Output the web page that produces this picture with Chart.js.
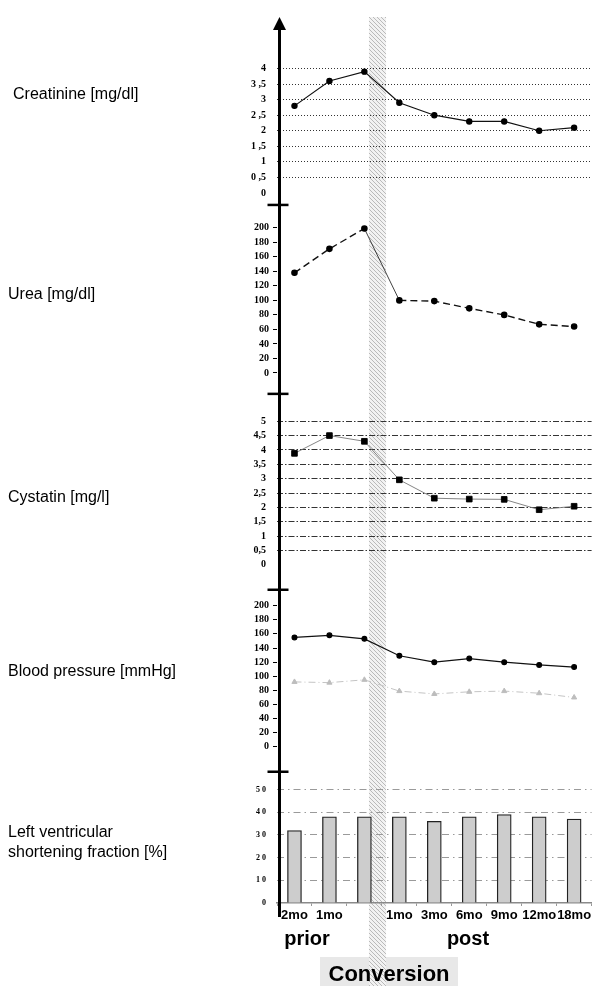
<!DOCTYPE html>
<html>
<head>
<meta charset="utf-8">
<script src="https://cdn.jsdelivr.net/npm/chart.js@4.4.1/dist/chart.umd.min.js"></script>
<style>
  html, body { margin: 0; padding: 0; background: #fff; }
  #wrap { width: 597px; height: 986px; }
</style>
</head>
<body>
<div id="wrap"><canvas id="chart" width="597" height="986"></canvas></div>
<script>
const months = ['2mo', '1mo', '', '1mo', '3mo', '6mo', '9mo', '12mo', '18mo'];

const creatinine = [2.8, 3.6, 3.9, 2.9, 2.5, 2.3, 2.3, 2.0, 2.1];
const urea = [138, 171, 199, 100, 99, 89, 80, 67, 64];
const cystatin = [3.88, 4.5, 4.3, 2.96, 2.32, 2.29, 2.28, 1.92, 2.04];
const systolic = [155, 158, 153, 129, 120, 125, 120, 116, 113];
const diastolic = [92, 91, 95, 79, 75, 78, 79, 76, 70];
const shortening = [32, 38, 38, 38, 36, 38, 39, 38, 37];

const creatTicks = [0, 0.5, 1, 1.5, 2, 2.5, 3, 3.5, 4];
const ureaTicks = [0, 20, 40, 60, 80, 100, 120, 140, 160, 180, 200];
const cysTicks = [0, 0.5, 1, 1.5, 2, 2.5, 3, 3.5, 4, 4.5, 5];
const bpTicks = [0, 20, 40, 60, 80, 100, 120, 140, 160, 180, 200];
const lvTicks = [0, 10, 20, 30, 40, 50];

const panelLabels = [
  ['Creatinine [mg/dl]'],
  ['Urea [mg/dl]'],
  ['Cystatin [mg/l]'],
  ['Blood pressure [mmHg]'],
  ['Left ventricular', 'shortening fraction [%]']
];

const sans = 'Liberation Sans, Arial, sans-serif';
const tickFont = { family: 'Liberation Serif, Times New Roman, serif', size: 10, weight: 'bold' };

const setTicks = list => scale => { scale.ticks = list.map(v => ({ value: v })); };
const fitWidth = scale => { scale.width = 277; };

function yAxis(opts) {
  return {
    type: 'linear',
    position: 'left',
    stack: 'panels',
    stackWeight: opts.weight,
    weight: opts.order,
    min: opts.min,
    max: opts.max,
    afterBuildTicks: setTicks(opts.ticks),
    afterFit: fitWidth,
    border: { display: false, dash: opts.dash || [] },
    grid: {
      display: true,
      drawOnChartArea: !!opts.lines,
      drawTicks: !opts.lines,
      tickLength: 4,
      tickColor: '#000',
      tickWidth: 1,
      color: c => c.tick && c.tick.value === 0 ? 'rgba(0,0,0,0)' : (opts.lineColor || '#333'),
      lineWidth: 1
    },
    ticks: {
      font: { ...tickFont, size: opts.fontSize || 10 },
      color: '#000',
      autoSkip: false,
      padding: opts.lines ? 11 : 4,
      callback: opts.format || (v => v)
    }
  };
}

let hatchPattern = null;
function hatch(ctx) {
  if (hatchPattern) return hatchPattern;
  const c = document.createElement('canvas');
  c.width = 4; c.height = 4;
  const g = c.getContext('2d');
  g.fillStyle = '#f2f2f2';
  g.fillRect(0, 0, 4, 4);
  g.strokeStyle = '#bababa';
  g.lineWidth = 1;
  g.beginPath(); g.moveTo(0, 0); g.lineTo(4, 4); g.stroke();
  hatchPattern = ctx.createPattern(c, 'repeat');
  return hatchPattern;
}

const overlay = {
  id: 'overlay',
  beforeDraw(chart) {
    const { ctx, chartArea, scales: { x } } = chart;
    const p2 = x.getPixelForValue(2);
    const step = x.getPixelForValue(3) - p2;
    ctx.save();
    // grey stipple behind "Conversion"
    ctx.fillStyle = '#e8e8e8';
    ctx.fillRect(320, 957, 138, 29);
    // conversion band
    ctx.fillStyle = hatch(ctx);
    ctx.fillRect(p2 + step * 0.13, chartArea.top, step * 0.49, chart.height - chartArea.top);
    ctx.restore();
  },
  afterDraw(chart) {
    const { ctx, chartArea, scales } = chart;
    const ax = chartArea.left + 2.5;
    ctx.save();
    ctx.strokeStyle = '#000';
    ctx.fillStyle = '#000';
    ctx.lineWidth = 3;
    ctx.beginPath();
    ctx.moveTo(ax, chartArea.top + 10);
    ctx.lineTo(ax, 917);
    ctx.stroke();
    ctx.beginPath();
    ctx.moveTo(ax, chartArea.top);
    ctx.lineTo(ax - 6.5, chartArea.top + 13);
    ctx.lineTo(ax + 6.5, chartArea.top + 13);
    ctx.closePath();
    ctx.fill();
    ctx.lineWidth = 2.5;
    ['yUrea', 'yCys', 'yBp', 'yLv'].forEach(id => {
      const y = scales[id].top;
      ctx.beginPath();
      ctx.moveTo(ax - 12, y);
      ctx.lineTo(ax + 9, y);
      ctx.stroke();
    });

    // panel names
    ctx.font = '16px ' + sans;
    ctx.textAlign = 'left';
    ctx.textBaseline = 'alphabetic';
    const baselines = [99, 299, 502, 676, 837];
    panelLabels.forEach((lines, i) => {
      lines.forEach((t, j) => ctx.fillText(t, i === 0 ? 13 : 8, baselines[i] + j * 20));
    });

    ctx.textAlign = 'center';
    ctx.font = 'bold 20px ' + sans;
    ctx.fillText('prior', 307, 945);
    ctx.fillText('post', 468, 945);
    ctx.font = 'bold 22px ' + sans;
    ctx.fillText('Conversion', 389, 981);
    ctx.restore();
  }
};

new Chart(document.getElementById('chart').getContext('2d'), {
  data: {
    labels: months,
    datasets: [
      {
        type: 'line', label: 'Creatinine', data: creatinine, yAxisID: 'yCre',
        borderColor: '#111', borderWidth: 1.2, pointRadius: 2.6, pointBackgroundColor: '#000',
        pointBorderColor: '#000', tension: 0
      },
      {
        type: 'line', label: 'Urea', data: urea, yAxisID: 'yUrea',
        borderColor: '#111', borderWidth: 1.4, borderDash: [7, 4], pointRadius: 2.6,
        pointBackgroundColor: '#000', pointBorderColor: '#000',
        segment: {
          borderWidth: c => c.p0DataIndex === 2 ? 0.8 : undefined,
          borderDash: c => c.p0DataIndex === 2 ? [] : undefined
        }
      },
      {
        type: 'line', label: 'Cystatin', data: cystatin, yAxisID: 'yCys',
        borderColor: '#777', borderWidth: 0.9, pointStyle: 'rect', pointRadius: 4,
        pointBackgroundColor: '#000', pointBorderColor: '#000'
      },
      {
        type: 'line', label: 'Systolic', data: systolic, yAxisID: 'yBp',
        borderColor: '#111', borderWidth: 1.2, pointRadius: 2.4,
        pointBackgroundColor: '#000', pointBorderColor: '#000'
      },
      {
        type: 'line', label: 'Diastolic', data: diastolic, yAxisID: 'yBp',
        borderColor: '#c4c4c4', borderWidth: 1, borderDash: [7, 3, 1, 3], pointStyle: 'triangle',
        pointRadius: 3, pointBackgroundColor: '#bdbdbd', pointBorderColor: '#bdbdbd'
      },
      {
        type: 'bar', label: 'Shortening fraction', data: shortening, yAxisID: 'yLv',
        backgroundColor: '#cdcdcd', borderColor: '#222', borderWidth: 1.3, barThickness: 14,
        borderSkipped: 'bottom'
      }
    ]
  },
  options: {
    responsive: false,
    animation: false,
    devicePixelRatio: 1,
    layout: { padding: { top: 12, left: 0, right: 0, bottom: 0 } },
    plugins: { legend: { display: false }, tooltip: { enabled: false } },
    scales: {
      x: {
        type: 'category',
        afterFit: s => { s.height = 83; },
        border: { display: true, color: '#8a8a8a', width: 1.5 },
        grid: { display: true, drawOnChartArea: false, drawTicks: true, tickLength: 3, color: '#999', offset: true },
        ticks: {
          font: { family: sans, size: 13, weight: 'bold' }, color: '#000',
          padding: 2, maxRotation: 0, autoSkip: false
        }
      },
      yCre: yAxis({
        weight: 189, order: 5, min: -0.383, max: 5.655, ticks: creatTicks, lines: true,
        dash: [1, 2], lineColor: '#333',
        format: v => String(v).replace('.', ' ,')
      }),
      yUrea: yAxis({ weight: 190, order: 4, min: -28.8, max: 231.5, ticks: ureaTicks }),
      yCys: yAxis({
        weight: 197, order: 3, min: -0.865, max: 5.95, ticks: cysTicks, lines: true,
        dash: [6, 2, 1.5, 2], lineColor: '#333',
        format: v => String(v).replace('.', ',')
      }),
      yBp: yAxis({ weight: 183, order: 2, min: -35.2, max: 222.5, ticks: bpTicks }),
      yLv: yAxis({
        weight: 132, order: 1, min: 0, max: 57.9, ticks: lvTicks, lines: true,
        dash: [7, 4, 1.5, 4], lineColor: '#9a9a9a', fontSize: 8,
        format: v => String(v).split('').join(' ')
      })
    }
  },
  plugins: [overlay]
});
</script>
</body>
</html>
